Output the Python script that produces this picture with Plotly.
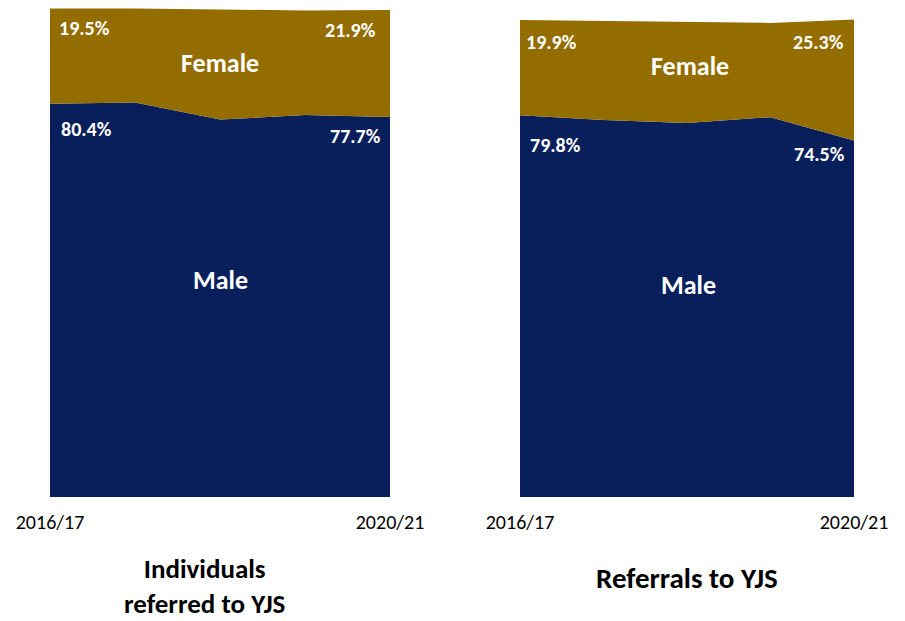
import plotly.graph_objects as go

years = ["2016/17", "2017/18", "2018/19", "2019/20", "2020/21"]
# Individuals referred to YJS
ind_male = [80.4, 80.7, 77.2, 78.1, 77.7]
ind_female = [19.5, 19.2, 22.5, 21.4, 21.9]
# Referrals to YJS
ref_male = [79.8, 78.8, 78.2, 79.4, 74.5]
ref_female = [19.9, 20.7, 21.1, 19.7, 25.3]

tick_labels = ["2016/17", "2020/21"]
title_left = "Individuals<br>referred to YJS"
title_right = "Referrals to YJS"

MALE = "#081F5C"
FEMALE = "#946D00"
FONT = "Carlito, Lato, sans-serif"
W, H = 905, 621
OFF = 8  # page body margin


def px_x(p):
    return (p - OFF) / W


def px_y(p):
    return min(1.0, 1 - (p - OFF) / H)


xi = list(range(len(years)))
fig = go.Figure()

for k, (m, f) in enumerate([(ind_male, ind_female), (ref_male, ref_female)]):
    xa = "x" if k == 0 else "x2"
    ya = "y" if k == 0 else "y2"
    fig.add_trace(go.Scatter(x=xi, y=m, stackgroup=f"s{k}", mode="lines",
                             line=dict(width=0, color=MALE), fillcolor=MALE,
                             name="Male", xaxis=xa, yaxis=ya, hoverinfo="skip"))
    fig.add_trace(go.Scatter(x=xi, y=f, stackgroup=f"s{k}", mode="lines",
                             line=dict(width=0, color=FEMALE), fillcolor=FEMALE,
                             name="Female", xaxis=xa, yaxis=ya, hoverinfo="skip"))

    pos = {
        0: dict(fl=(0.40, 96.0), fr=(3.54, 95.4), fe=(2.0, 88.7),
                ml=(0.435, 75.2), mr=(3.59, 73.8), ma=(2.0, 44.3)),
        1: dict(fl=(0.38, 95.1), fr=(3.58, 95.1), fe=(2.04, 90.1),
                ml=(0.43, 73.6), mr=(3.59, 71.7), ma=(2.02, 44.3)),
    }[k]
    texts = dict(fl=f"{f[0]}%", fr=f"{f[-1]}%", fe="Female",
                 ml=f"{m[0]}%", mr=f"{m[-1]}%", ma="Male")
    for key, (px, py) in pos.items():
        big = key in ("fe", "ma")
        fig.add_annotation(x=px, y=py, xref=xa, yref=ya, text=f"<b>{texts[key]}</b>",
                           showarrow=False, xanchor="center", yanchor="middle",
                           font=dict(family=FONT, size=26 if big else 20, color="white"))

fig.add_annotation(x=px_x(204), y=px_y(586), xref="paper", yref="paper",
                   text=f"<b>{title_left}</b>", showarrow=False,
                   xanchor="center", yanchor="middle",
                   font=dict(family=FONT, size=27, color="black"))
fig.add_annotation(x=px_x(687), y=px_y(578), xref="paper", yref="paper",
                   text=f"<b>{title_right}</b>", showarrow=False,
                   xanchor="center", yanchor="middle",
                   font=dict(family=FONT, size=29, color="black"))

axis_x = dict(range=[0, 4], tickvals=[0, 4], ticktext=tick_labels, showgrid=False,
              zeroline=False, showline=False, ticks="outside", ticklen=7,
              tickcolor="rgba(0,0,0,0)", tickfont=dict(family=FONT, size=20, color="black"))
axis_y = dict(range=[0, 100], showgrid=False, zeroline=False, showline=False,
              showticklabels=False, ticks="")

fig.update_layout(
    width=W, height=H, margin=dict(l=0, r=0, t=0, b=0, autoexpand=False),
    paper_bgcolor="white", plot_bgcolor="white", showlegend=False,
    xaxis=dict(axis_x, domain=[px_x(50), px_x(390)]),
    xaxis2=dict(axis_x, domain=[px_x(520), px_x(854)], anchor="y2"),
    yaxis=dict(axis_y, domain=[px_y(497), px_y(8)]),
    yaxis2=dict(axis_y, domain=[px_y(497), px_y(18.6)], anchor="x2"),
)

fig.write_html("out.html")
